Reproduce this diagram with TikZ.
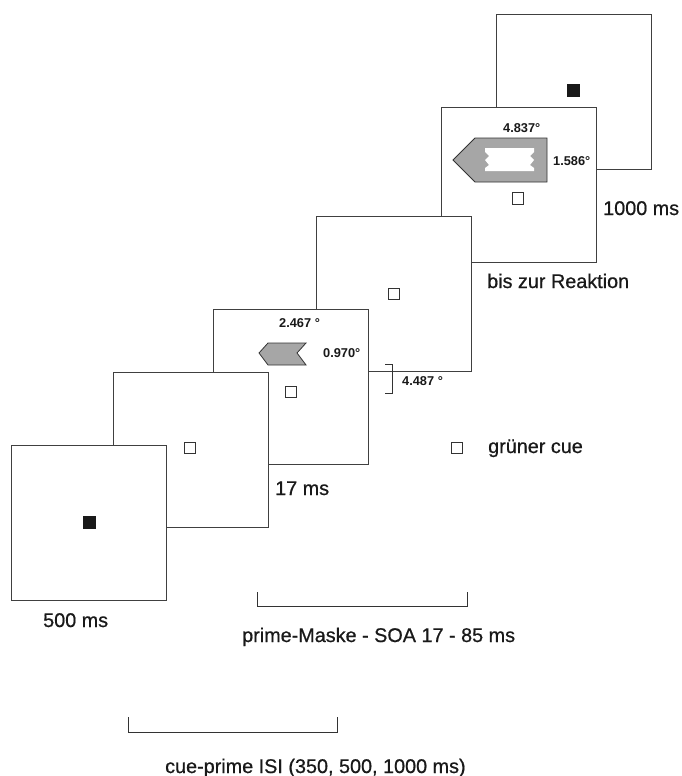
\documentclass[tikz,border=0pt]{standalone}
\usepackage{fontspec}
\setmainfont{Liberation Sans}
\newfontfamily\heavyfont[FakeBold=0.7]{Liberation Sans}
\begin{document}
\begin{tikzpicture}[x=1pt,y=-1pt,
  frame/.style={draw=black!75,line width=0.9pt,fill=white,minimum width=155,minimum height=155,inner sep=0,outer sep=0},
  cue/.style={draw=black!80,line width=0.7pt,fill=white,minimum size=11.5,inner sep=0},
  fix/.style={fill=black!90,minimum size=13,inner sep=0},
  big/.style={anchor=base west,inner sep=0,font=\heavyfont\fontsize{19.8}{22}\selectfont,text=black!90},
  small/.style={anchor=base west,inner sep=0,font=\fontsize{12.8}{14}\selectfont\bfseries,text=black!90},
  arrowfill/.style={fill=black!35,draw=black!80,line width=0.8pt},
  brk/.style={draw=black!80,line width=0.8pt}]
\useasboundingbox (0,0) rectangle (681,776);
% frames, back to front
\node[frame] (f6) at (574,91.5) {};
\node[frame] (f5) at (518.5,184.5) {};
\node[frame] (f4) at (394,293.5) {};
\node[frame] (f3) at (290.5,386.5) {};
\node[frame] (f2) at (191,449.5) {};
\node[frame] (f1) at (88.5,523) {};
% fixation and cues
\node[fix] (fx1) at (89,522.5) {};
\node[fix] (fx6) at (573.5,90.5) {};
\node[cue] (c2) at (190,448) {};
\node[cue] (c3) at (291,392) {};
\node[cue] (c4) at (394,294) {};
\node[cue] (c5) at (518,198.5) {};
\node[cue] (cl) at (457,448) {};
% target arrow
\draw[arrowfill] (453,160) -- (475,138) -- (547,138) -- (547,182) -- (475,182) -- cycle;
\fill[white] (485,148) -- (534,148) -- (534,152) -- (530,156) -- (534,160) -- (530,165) -- (534,168) -- (534,171)
  -- (485,171) -- (485,168) -- (489,165) -- (485,160) -- (489,156) -- (485,152) -- cycle;
% prime arrow
\draw[arrowfill] (259,353) -- (268,343) -- (306,343) -- (297,353) -- (306,365) -- (268,365) -- cycle;
% small labels
\node[small] (l4837) at (503,132) {4.837°};
\node[small] (l1586) at (553,165) {1.586°};
\node[small] (l2467) at (279,327) {2.467 °};
\node[small] (l0970) at (323,357) {0.970°};
\node[small] (l4487) at (402,385) {4.487 °};
% size bracket
\draw[brk] (385,364) -- (392,364) -- (392,393) -- (385,393);
% big labels
\node[big] (t500) at (43,627) {500 ms};
\node[big] (t17) at (275,495) {17 ms};
\node[big] (t1000) at (603,215) {1000 ms};
\node[big] (tbis) at (487,288) {bis zur Reaktion};
\node[big] (tgr) at (488,453) {grüner cue};
\node[big] (tsoa) at (242,642) {prime-Maske - SOA 17 - 85 ms};
\node[big] (tisi) at (165,773) {cue-prime ISI (350, 500, 1000 ms)};
% timing brackets
\draw[brk] (257,592) -- (257,606) -- (467,606) -- (467,592);
\draw[brk] (128,717) -- (128,732) -- (337,732) -- (337,717);
\end{tikzpicture}
\end{document}
